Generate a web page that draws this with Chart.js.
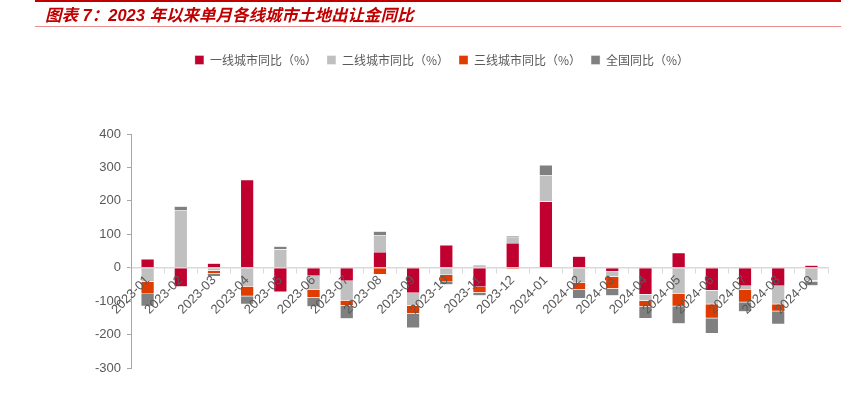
<!DOCTYPE html>
<html>
<head>
<meta charset="utf-8">
<script src="https://cdn.jsdelivr.net/npm/chart.js@4.4.0/dist/chart.umd.min.js"></script>
<style>
  html, body { margin: 0; padding: 0; background: #fff; width: 841px; height: 395px; overflow: hidden; }
  #title { position: absolute; left: 35px; top: 0; width: 806px; height: 27px; border-top: 2px solid #c00000; border-bottom: 1px solid #e89090; box-sizing: border-box; }
  #title span { position: absolute; left: 10px; top: 3px; font-family: "Liberation Sans", "Noto Sans CJK SC", sans-serif; font-weight: bold; font-style: italic; font-size: 16.5px; color: #c00000; white-space: nowrap; line-height: 20px; }
  #wrap { position: absolute; left: 0; top: 0; width: 841px; height: 395px; }
</style>
</head>
<body>
<div id="wrap"><canvas id="c" width="841" height="395"></canvas></div>
<div id="title"><span>图表 7：2023 年以来单月各线城市土地出让金同比</span></div>
<script>
const categories = ["2023-01","2023-02","2023-03","2023-04","2023-05","2023-06","2023-07","2023-08","2023-09","2023-10","2023-11","2023-12","2024-01","2024-02","2024-03","2024-04","2024-05","2024-06","2024-07","2024-08","2024-09"];
const tier1 = [26, -57, 13, 263, -73, -25, -40, 47, -76, 68, -58, 74, 198, 34, -12, -80, 45, -68, -55, -55, 7];
const tier2 = [-42, 173, -9, -56, 55, -42, -58, 51, -38, -22, 9, 19, 78, -46, -15, -19, -77, -41, -10, -54, -39];
const tier3 = [-37, -2, -9, -29, 0, -22, -15, -20, -23, -21, -17, -4, -2, -20, -36, -18, -38, -42, -38, -21, -3];
const national = [-36, 11, -8, -24, 9, -28, -40, 11, -43, -8, -9, 3, 31, -26, -21, -35, -53, -46, -29, -39, -12];
const yTicks = [400, 300, 200, 100, 0, -100, -200, -300];

const legendHeight = {
  id: 'legendHeight',
  beforeInit(chart) {
    const origFit = chart.legend.fit;
    chart.legend.fit = function() {
      origFit.bind(chart.legend)();
      this.height = 90;
    };
  }
};

const mk = (label, data, color) => ({
  label, data, backgroundColor: color, borderColor: 'rgba(255,255,255,0.7)', borderWidth: 0.5,
  categoryPercentage: 0.8, barPercentage: 0.5, stack: 's'
});

new Chart(document.getElementById('c'), {
  type: 'bar',
  data: {
    labels: categories,
    datasets: [
      mk('一线城市同比（%）', tier1, '#c0002f'),
      mk('二线城市同比（%）', tier2, '#c0c0c0'),
      mk('三线城市同比（%）', tier3, '#e03c00'),
      mk('全国同比（%）', national, '#808080')
    ]
  },
  options: {
    responsive: false,
    animation: false,
    layout: { padding: { top: 44, left: 56, right: 13, bottom: 27 } },
    plugins: {
      legend: {
        position: 'top',
        labels: {
          boxWidth: 9, boxHeight: 9, padding: 10,
          color: '#595959',
          font: { family: '"Noto Sans CJK SC", sans-serif', size: 12 }
        }
      },
      tooltip: { enabled: false }
    },
    scales: {
      x: {
        stacked: true,
        position: { y: 0 },
        afterFit(scale) { scale.height = 10; },
        grid: { display: true, drawOnChartArea: false, drawTicks: true, tickLength: 5, color: '#d9d9d9', offset: true },
        border: { display: true, color: '#d9d9d9', width: 1.5 },
        ticks: {
          z: 1,
          autoSkip: false, minRotation: 45, maxRotation: 45, padding: 0,
          color: '#595959', font: { family: '"Liberation Sans", Arial, sans-serif', size: 13 }
        }
      },
      y: {
        stacked: true,
        min: -300, max: 400,
        afterFit(scale) { scale.width = 75; },
        afterBuildTicks(scale) { scale.ticks = yTicks.map(v => ({ value: v })); },
        grid: { display: true, drawOnChartArea: false, drawTicks: true, tickLength: 4, color: '#a6a6a6' },
        border: { display: true, color: '#a6a6a6', width: 1 },
        ticks: {
          padding: 6, color: '#595959',
          font: { family: '"Liberation Sans", Arial, sans-serif', size: 13 }
        }
      }
    }
  },
  plugins: [legendHeight]
});
</script>
</body>
</html>
